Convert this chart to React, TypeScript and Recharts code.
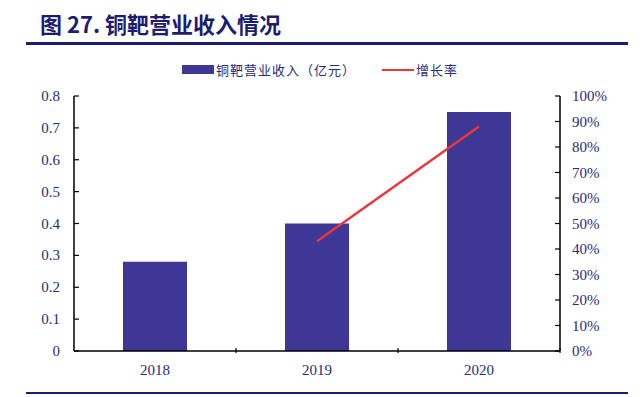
import React from "react";
import {
  ComposedChart,
  Bar,
  Line,
  XAxis,
  YAxis,
  Legend,
} from "recharts";

const years = ["2018", "2019", "2020"];
const revenue = [0.28, 0.4, 0.75];
const growth = [null, 0.43, 0.88];
const leftTicks = [0, 0.1, 0.2, 0.3, 0.4, 0.5, 0.6, 0.7, 0.8];
const rightTicks = [0, 0.1, 0.2, 0.3, 0.4, 0.5, 0.6, 0.7, 0.8, 0.9, 1];

const NAVY = "#2a2a78";
const BAR = "#3f3795";
const RED = "#e8383d";
const SERIF = "'Liberation Serif', 'Times New Roman', serif";
const CJK = "'Noto Sans CJK SC', sans-serif";

const data = years.map((y, i) => ({ year: y, revenue: revenue[i], growth: growth[i] }));

const LeftTick = (props: any) => {
  const { x, y, payload } = props;
  return (
    <g>
      <line x1={x + 8} x2={x + 13} y1={y} y2={y} stroke="#000" strokeWidth={1.2} />
      <text x={x - 6} y={y} dy={5} textAnchor="end" fill={NAVY} fontSize={15} fontFamily={SERIF}>
        {payload.value}
      </text>
    </g>
  );
};

const RightTick = (props: any) => {
  const { x, y, payload } = props;
  return (
    <g>
      <line x1={x - 8} x2={x - 13} y1={y} y2={y} stroke="#000" strokeWidth={1.2} />
      <text x={x + 4} y={y} dy={5} textAnchor="start" fill={NAVY} fontSize={15} fontFamily={SERIF}>
        {Math.round(payload.value * 100) + "%"}
      </text>
    </g>
  );
};

const XTick = (props: any) => {
  const { x, y, payload } = props;
  const half = 81;
  return (
    <g>
      <line x1={x + half} x2={x + half} y1={y} y2={y - 5} stroke="#000" strokeWidth={1.2} />
      <text x={x} y={y + 22} textAnchor="middle" fill={NAVY} fontSize={15} fontFamily={SERIF}>
        {payload.value}
      </text>
    </g>
  );
};

const LegendContent = () => (
  <div style={{ display: "flex", justifyContent: "center", alignItems: "center", fontFamily: CJK, fontSize: 13, color: NAVY, letterSpacing: 1 }}>
    <span style={{ display: "inline-block", width: 32, height: 9, background: BAR, marginRight: 2 }} />
    <span>铜靶营业收入（亿元）</span>
    <span style={{ display: "inline-block", width: 32, height: 2, background: RED, marginLeft: 26, marginRight: 2 }} />
    <span>增长率</span>
  </div>
);

export default function App() {
  return (
    <div style={{ position: "absolute", left: 0, top: 0, width: 640, height: 397, background: "#fff" }}>
      <div
        style={{
          position: "absolute",
          left: 40,
          top: 7,
          fontFamily: CJK,
          fontWeight: 700,
          fontSize: 22,
          color: "#1c1c70",
          whiteSpace: "nowrap",
        }}
      >
        图 27. 铜靶营业收入情况
      </div>
      <div style={{ position: "absolute", left: 26, top: 42, width: 602, height: 3, background: "#1c1c70" }} />
      <ComposedChart
        width={640}
        height={397}
        data={data}
        margin={{ top: 77, left: 14, right: 20, bottom: 16 }}
        barCategoryGap="20%"
      >
        <Legend verticalAlign="top" content={<LegendContent />} wrapperStyle={{ top: 60, left: 0, width: 640 }} />
        <XAxis
          dataKey="year"
          height={30}
          tickSize={0}
          tickLine={false}
          tick={<XTick />}
          axisLine={{ stroke: "#000", strokeWidth: 1.5 }}
        />
        <YAxis
          yAxisId="left"
          width={60}
          domain={[0, 0.8]}
          ticks={leftTicks}
          tickSize={0}
          tickMargin={8}
          tickLine={false}
          tick={<LeftTick />}
          axisLine={{ stroke: "#000", strokeWidth: 1.5 }}
        />
        <YAxis
          yAxisId="right"
          orientation="right"
          width={60}
          domain={[0, 1]}
          ticks={rightTicks}
          tickSize={0}
          tickMargin={8}
          tickLine={false}
          tick={<RightTick />}
          axisLine={{ stroke: "#000", strokeWidth: 1.5 }}
        />
        <Bar yAxisId="left" dataKey="revenue" fill={BAR} barSize={64} isAnimationActive={false} />
        <Line
          yAxisId="right"
          dataKey="growth"
          stroke={RED}
          strokeWidth={2.5}
          dot={false}
          connectNulls
          isAnimationActive={false}
        />
      </ComposedChart>
      <div style={{ position: "absolute", left: 26, top: 392, width: 602, height: 2, background: "#1c1c70" }} />
    </div>
  );
}
